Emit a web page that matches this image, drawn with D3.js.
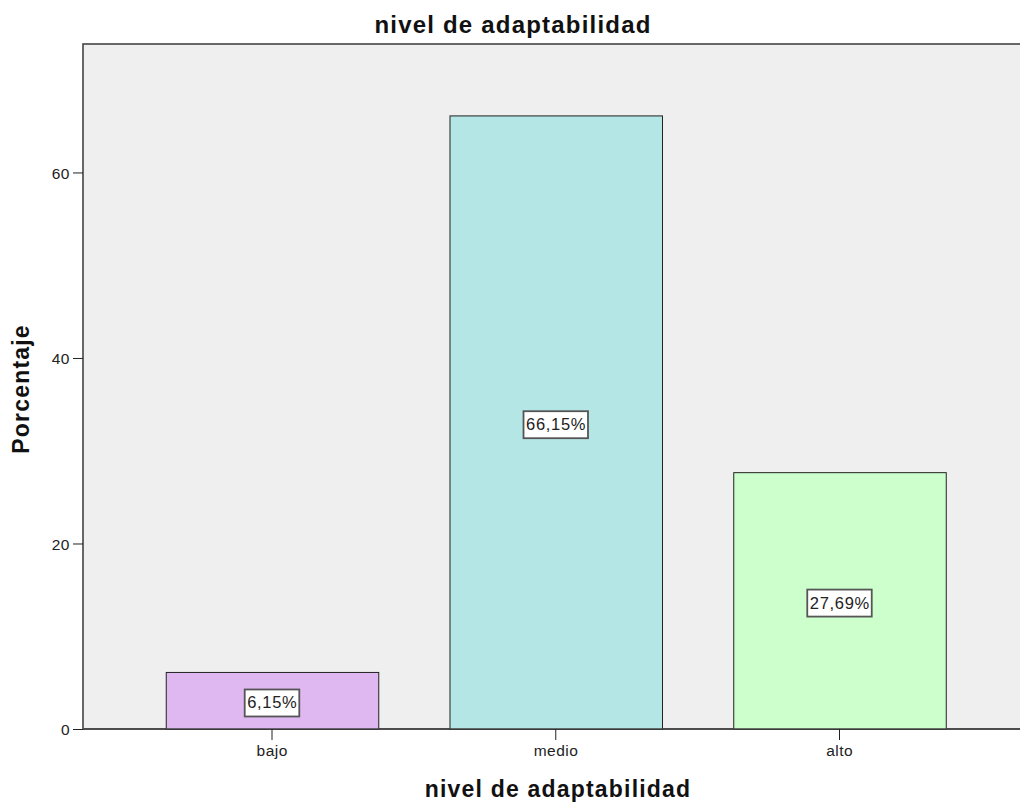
<!DOCTYPE html>
<html><head><meta charset="utf-8">
<script src="https://cdn.jsdelivr.net/npm/d3@7"></script>
<style>body{margin:0;background:#fff}svg{display:block}</style>
</head><body>
<svg id="c" width="1020" height="805"></svg>
<script>
const categories = ["bajo", "medio", "alto"];
const values = [6.15, 66.15, 27.69];
const valueLabels = ["6,15%", "66,15%", "27,69%"];
const colors = ["#dfb8f2", "#b4e6e6", "#ccffcc"];
const yTicks = [0, 20, 40, 60];

(function() {
const svg = d3.select("#c");
const font = "Liberation Sans, Arial, sans-serif";
const pL = 83, pT = 44, pR = 1024, pB = 729;

const y = d3.scaleLinear().domain([0, 73.85]).range([pB, pT]);
const x = d3.scaleBand().domain(categories).range([130.125, 981.375]).paddingInner(0.2511).paddingOuter(0.12555);

svg.append("rect").attr("x", pL).attr("y", pT).attr("width", pR - pL).attr("height", pB - pT)
  .attr("fill", "#efefef").attr("stroke", "#444").attr("stroke-width", 1.6);

svg.selectAll("rect.bar").data(values).join("rect").attr("class", "bar")
  .attr("x", (d, i) => x(categories[i]) + 0.5)
  .attr("y", d => y(d) + 0.5)
  .attr("width", x.bandwidth())
  .attr("height", d => pB - y(d))
  .attr("fill", (d, i) => colors[i]).attr("stroke", "#222").attr("stroke-width", 1);

const lg = svg.selectAll("g.lab").data(values).join("g").attr("class", "lab")
  .attr("transform", (d, i) => `translate(${x(categories[i]) + x.bandwidth() / 2},${(y(d) + pB) / 2 + 2})`);
lg.append("text").text((d, i) => valueLabels[i]).attr("text-anchor", "middle").attr("dy", "0.36em")
  .attr("x", 0.35).attr("letter-spacing", 0.7)
  .attr("font-family", font).attr("font-size", 16.5).attr("fill", "#222");
lg.each(function() {
  const g = d3.select(this);
  const bb = g.select("text").node().getBBox();
  g.insert("rect", "text").attr("x", bb.x - 2.5).attr("y", -13).attr("width", bb.width + 4.3).attr("height", 27)
    .attr("fill", "#fff").attr("stroke", "#555").attr("stroke-width", 1.8);
});

const ya = svg.append("g").attr("transform", `translate(${pL},0)`)
  .call(d3.axisLeft(y).tickValues(yTicks).tickSize(10).tickSizeOuter(0).tickFormat(d3.format("d")));
ya.select(".domain").remove();
ya.selectAll("line").attr("stroke", "#222");
ya.selectAll("text").attr("font-family", font).attr("font-size", 15.5).attr("letter-spacing", 0.5)
  .attr("fill", "#222").attr("x", -13).attr("dy", "0.36em");

const xa = svg.append("g").attr("transform", `translate(0,${pB})`)
  .call(d3.axisBottom(x).tickSize(11).tickSizeOuter(0));
xa.select(".domain").attr("stroke", "#444").attr("stroke-width", 1.6).attr("d", `M${pL},0H${pR}`);
xa.selectAll("line").attr("stroke", "#222");
xa.selectAll("text").attr("font-family", font).attr("font-size", 15.5).attr("letter-spacing", 0.5)
  .attr("fill", "#222").attr("y", 16).attr("x", 0.25);

svg.append("text").text("nivel de adaptabilidad").attr("x", 513).attr("y", 33).attr("text-anchor", "middle")
  .attr("letter-spacing", 1.2)
  .attr("font-family", font).attr("font-size", 24).attr("font-weight", "bold").attr("fill", "#111");
svg.append("text").text("nivel de adaptabilidad").attr("x", 558).attr("y", 797).attr("text-anchor", "middle")
  .attr("letter-spacing", 1.2)
  .attr("font-family", font).attr("font-size", 23).attr("font-weight", "bold").attr("fill", "#111");
svg.append("text").text("Porcentaje").attr("transform", "translate(29,389) rotate(-90)").attr("text-anchor", "middle")
  .attr("letter-spacing", 1.2)
  .attr("font-family", font).attr("font-size", 23).attr("font-weight", "bold").attr("fill", "#111");
})();
</script>
</body></html>
